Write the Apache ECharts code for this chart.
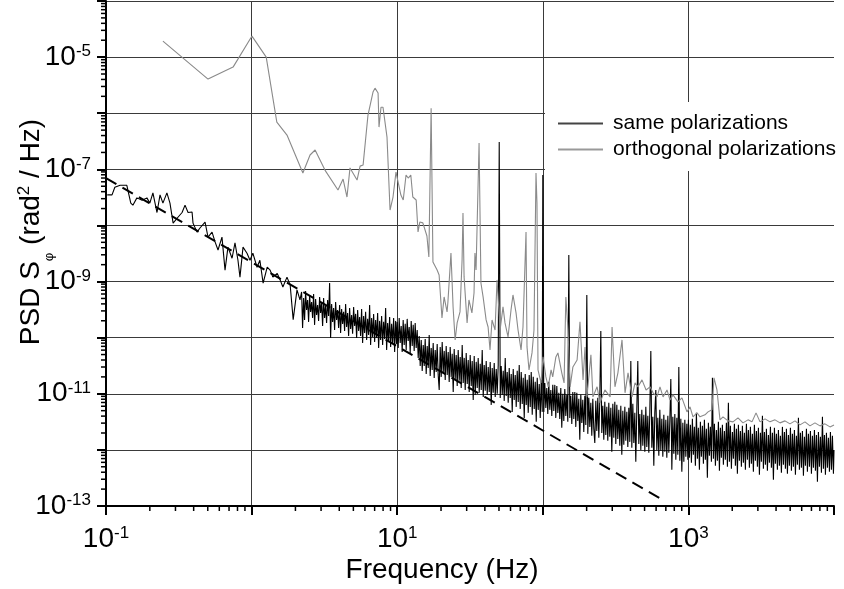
<!DOCTYPE html>
<html><head><meta charset="utf-8">
<script src="https://cdn.jsdelivr.net/npm/echarts@6/dist/echarts.min.js"></script>
<style>html,body{margin:0;padding:0;background:#fff}#c{width:844px;height:589px}</style>
</head><body><div id="c"></div>
<script>
const FONT = "'Liberation Sans', Arial, Helvetica, sans-serif";
// exponents that carry a tick label
const xLabelExponents = [-1, 1, 3];
const yLabelExponents = [-13, -11, -9, -7, -5];
const legendNames = ['same polarizations', 'orthogonal polarizations'];

// same polarizations: [frequency Hz, PSD rad^2/Hz]
const samePolarizations = [
[0.102,3.5e-8],[0.110,3.5e-8],[0.115,4.8e-8],[0.125,5.2e-8],[0.139,5.2e-8],[0.148,2.5e-8],[0.153,2.3e-8],[0.163,3.1e-8],[0.177,2.8e-8],[0.191,3.1e-8],[0.200,2.5e-8],[0.210,3.8e-8],[0.224,1.7e-8],[0.235,3.5e-8],[0.246,2.5e-8],[0.262,3.8e-8],[0.275,2.5e-8],[0.289,1.1e-8],[0.312,1.4e-8],[0.333,1.7e-8],[0.349,2.3e-8],[0.366,1.7e-8],[0.390,1.74e-8],[0.396,1.1e-8],[0.422,7.6e-9],[0.442,9.0e-9],[0.479,1.15e-8],[0.502,6.2e-9],[0.535,7.6e-9],[0.561,5.1e-9],[0.588,3.65e-9],[0.626,6.2e-9],[0.657,1.6e-9],[0.688,4.1e-9],[0.734,2.6e-9],[0.769,4.9e-9],[0.806,2.4e-9],[0.832,1.2e-9],[0.873,4.1e-9],[0.930,3.2e-9],[0.975,2.4e-9],[1.02,3.2e-9],[1.09,1.8e-9],[1.14,2.4e-9],[1.20,9.4e-10],[1.28,1.8e-9],[1.34,1.6e-9],[1.40,1.2e-9],[1.50,1.4e-9],[1.57,1.07e-9],[1.64,8.0e-10],[1.75,1.2e-9],[1.84,8.7e-10],[1.93,2.1e-10],[2.05,7.1e-10],[2.15,4.7e-10],
[2.205,6.53e-10],[2.240,1.49e-10],[2.276,5.10e-10],[2.312,2.07e-10],[2.349,6.80e-10],[2.386,3.12e-10],[2.425,4.70e-10],[2.463,1.91e-10],[2.503,5.77e-10],[2.542,2.88e-10],[2.583,4.33e-10],[2.624,2.25e-10],[2.666,6.01e-10],[2.708,1.69e-10],[2.752,4.90e-10],[2.795,2.54e-10],[2.840,3.83e-10],[2.885,1.99e-10],[2.932,5.32e-10],[2.978,2.76e-10],[3.026,4.16e-10],[3.074,1.62e-10],[3.123,5.10e-10],[3.172,2.25e-10],[3.224,3.68e-10],[3.274,1.83e-10],[3.327,4.70e-10],[3.380,2.44e-10],[3.434,9.44e-10],[3.488,9.9e-11],[3.545,3.99e-10],[3.600,1.91e-10],[3.659,3.39e-10],[3.716,1.37e-10],[3.776,4.33e-10],[3.836,2.07e-10],[3.898,3.12e-10],[3.959,1.49e-10],[4.023,3.83e-10],[4.086,1.21e-10],[4.152,3.25e-10],[4.218,1.76e-10],[4.286,2.88e-10],[4.353,1.32e-10],[4.423,3.99e-10],[4.493,1.55e-10],[4.565,2.76e-10],[4.638,1.07e-10],[4.712,3.39e-10],[4.787,1.43e-10],[4.864,2.54e-10],[4.941,1.17e-10],[5.020,3.53e-10],[5.100,1.62e-10],[5.181,2.65e-10],[5.264,9.9e-11],[5.348,3.12e-10],[5.433,1.32e-10],[5.520,2.34e-10],[5.607,1.07e-10],[5.697,3.25e-10],[5.787,8.06e-11],[5.880,2.44e-10],[5.973,1.21e-10],[6.069,2.88e-10],[6.166,9.12e-11],[6.264,2.16e-10],[6.364,1.12e-10],[6.466,3.83e-10],[6.568,7.43e-11],[6.673,2.25e-10],[6.780,1.03e-10],[6.888,2.65e-10],[6.998,8.40e-11],[7.109,2.07e-10],[7.223,9.9e-11],[7.338,2.76e-10],[7.455,6.57e-11],[7.574,1.99e-10],[7.695,9.12e-11],[7.817,2.44e-10],[7.942,7.43e-11],[8.068,1.91e-10],[8.197,9.50e-11],[8.328,3.39e-10],[8.461,6.05e-11],[8.595,1.83e-10],[8.733,8.75e-11],[8.872,2.34e-10],[9.014,6.84e-11],[9.157,1.76e-10],[9.303,8.06e-11],[9.451,2.25e-10],[9.602,5.57e-11],[9.755,1.99e-10],[9.911,7.74e-11],
[10.00,1.91e-10],[10.16,6.57e-11],[10.32,2.25e-10],[10.49,8.06e-11],[10.65,1.62e-10],[10.82,5.57e-11],[10.99,2.07e-10],[11.17,7.43e-11],[11.35,1.76e-10],[11.53,6.05e-11],[11.71,2.16e-10],[11.90,8.75e-11],[12.09,1.55e-10],[12.28,5.35e-11],[12.48,1.99e-10],[12.68,7.13e-11],[12.88,1.69e-10],[13.08,5.81e-11],[13.29,1.83e-10],[13.50,6.57e-11],[13.72,1.37e-10],[13.94,4.36e-11],[14.16,1.07e-10],[14.39,3.14e-11],[14.62,9.12e-11],[14.85,2.56e-11],[15.09,7.43e-11],[15.33,3.14e-11],[15.57,9.50e-11],[15.82,2.26e-11],[16.07,7.13e-11],[16.33,2.89e-11],[16.59,1.12e-10],[16.85,2.08e-11],[17.12,6.57e-11],[17.39,2.66e-11],[17.67,8.06e-11],[17.95,1.92e-11],[18.24,6.05e-11],[18.53,2.45e-11],[18.82,7.74e-11],[19.12,2.17e-11],[19.43,1.17e-11],[19.74,6.84e-11],[20.06,2.00e-11],[20.37,8.40e-11],[20.70,2.36e-11],[21.03,5.81e-11],[21.37,1.77e-11],[21.70,7.13e-11],[22.05,2.17e-11],[22.40,5.57e-11],[22.76,1.63e-11],[23.12,6.84e-11],[23.49,2.00e-11],[23.86,5.14e-11],[24.25,1.08e-11],[24.63,6.30e-11],[25.03,1.84e-11],[25.42,4.93e-11],[25.83,1.38e-11],[26.24,6.05e-11],[26.66,1.70e-11],[27.08,4.54e-11],[27.52,1.27e-11],[27.95,7.43e-11],[28.40,1.56e-11],[28.85,4.36e-11],[29.32,1.17e-11],[29.78,5.35e-11],[30.26,1.50e-11],[30.74,4.01e-11],[31.23,1.08e-11],[31.72,4.93e-11],[32.24,1.38e-11],[32.74,3.85e-11],[33.27,7.79e-12],[33.80,4.73e-11],[34.34,9.56e-12],[34.88,3.70e-11],[35.45,1.27e-11],[36.00,4.36e-11],[36.59,1.04e-11],[37.16,3.41e-11],[37.76,1.17e-11],[38.36,6.05e-11],[38.98,8.81e-12],[39.59,3.27e-11],[40.23,1.13e-11],[40.86,3.85e-11],[41.52,9.56e-12],[42.18,3.01e-11],[42.86,1.08e-11],[43.53,3.70e-11],[44.23,6.34e-12],[44.93,2.89e-11],[45.65,1.04e-11],[46.38,3.55e-11],[47.12,8.81e-12],[47.87,2.77e-11],[48.64,1.00e-11],[49.41,3.27e-11],[50.20,3.06e-7],[51.00,8.45e-12],[51.81,3.14e-11],[52.64,9.56e-12],[53.48,2.56e-11],[54.33,7.47e-12],[55.20,4.36e-11],[56.07,9.18e-12],[56.97,2.45e-11],[57.87,6.89e-12],[58.80,2.89e-11],[59.73,8.45e-12],[60.69,2.26e-11],[61.66,4.76e-12],[62.64,2.77e-11],[63.64,7.79e-12],[64.66,2.17e-11],[65.68,5.84e-12],[66.73,2.56e-11],[67.80,7.17e-12],[68.88,3.27e-11],[69.98,5.38e-12],[71.09,2.45e-11],[72.23,6.61e-12],[73.38,1.92e-11],[74.55,3.72e-12],[75.74,2.26e-11],[76.95,6.34e-12],[78.17,1.77e-11],[79.42,4.57e-12],[80.68,2.17e-11],[81.97,5.84e-12],[83.28,2.45e-11],[84.61,4.21e-12],[85.95,2.00e-11],[87.33,5.38e-12],[88.72,1.63e-11],[90.14,3.16e-12],[91.57,1.92e-11],[93.03,5.17e-12],[94.51,1.50e-11],[96.02,3.72e-12],[97.55,1.77e-11],[99.11,4.76e-12],
[100.0,7.92e-8],[101.6,4.76e-12],[103.2,1.56e-11],[104.9,5.61e-12],[106.5,1.27e-11],[108.2,4.38e-12],[109.9,1.63e-11],[111.7,5.17e-12],[113.5,1.17e-11],[115.3,4.04e-12],[117.1,1.44e-11],[119.0,4.96e-12],[120.9,1.44e-11],[122.8,3.72e-12],[124.8,1.38e-11],[126.8,4.57e-12],[128.8,1.04e-11],[130.8,3.57e-12],[132.9,1.27e-11],[135.0,2.47e-12],[137.2,1.00e-11],[139.4,3.29e-12],[141.6,1.22e-11],[143.9,4.04e-12],[146.2,9.56e-12],[148.5,3.16e-12],[150.9,2.98e-9],[153.3,3.72e-12],[155.7,9.18e-12],[158.2,2.91e-12],[160.7,1.08e-11],[163.3,3.57e-12],[165.9,1.08e-11],[168.5,2.57e-12],[171.2,1.04e-11],[173.9,3.29e-12],[176.7,8.11e-12],[179.5,1.51e-12],[182.4,9.56e-12],[185.3,3.03e-12],[188.2,7.79e-12],[191.2,2.09e-12],[194.3,9.18e-12],[197.4,2.79e-12],[200.6,5.77e-10],[203.7,1.93e-12],[207.0,8.45e-12],[210.3,2.57e-12],[213.7,6.89e-12],[217.0,1.78e-12],[220.5,8.11e-12],[224.0,2.37e-12],[227.6,1.33e-12],[231.2,7.47e-12],[234.9,2.18e-12],[238.6,8.45e-12],[242.5,1.64e-12],[246.3,7.79e-12],[250.3,1.32e-10],[254.2,2.01e-12],[258.3,6.09e-12],[262.4,1.51e-12],[266.6,7.17e-12],[270.8,1.85e-12],[275.2,5.84e-12],[279.5,1.45e-12],[284.0,6.89e-12],[288.5,1.71e-12],[293.2,5.61e-12],[297.8,9.23e-13],[302.6,6.61e-12],[307.4,1.64e-12],[312.3,7.17e-12],[317.2,1.28e-12],[322.4,6.34e-12],[327.4,1.57e-12],[332.7,5.17e-12],[338.0,1.18e-12],[343.4,6.09e-12],[348.8,8.16e-13],[354.5,4.96e-12],[360.0,1.23e-12],[365.9,5.84e-12],[371.6,1.45e-12],[377.6,4.76e-12],[383.6,1.13e-12],[389.8,5.61e-12],[395.9,1.39e-12],[402.3,3.85e-11],[408.6,1.09e-12],[415.2,6.61e-12],[421.8,1.33e-12],[428.6,4.57e-12],[435.3,6.13e-13],[442.3,5.38e-12],[449.3,3.85e-11],[456.5,1.28e-12],[463.8,4.38e-12],[471.2,1.00e-12],[478.7,5.17e-12],[486.4,1.18e-12],[494.1,4.21e-12],[502.0,9.23e-13],[510.0,5.84e-12],[518.1,1.13e-12],[526.4,4.04e-12],[534.8,8.86e-13],[543.3,4.76e-12],[552.0,5.81e-11],[560.7,1.09e-12],[569.7,3.88e-12],[578.7,5.20e-13],[588.0,4.57e-12],[597.3,1.17e-11],[606.9,1.00e-12],[616.6,3.72e-12],[626.4,7.83e-13],[636.4,5.17e-12],[646.6,9.62e-13],[656.8,3.57e-12],[667.3,7.52e-13],[678.0,4.21e-12],[688.8,9.23e-13],[699.8,3.43e-12],[710.9,7.22e-13],[722.3,4.04e-12],[733.8,8.86e-13],[745.5,3.29e-12],[757.4,1.84e-11],[769.5,4.41e-13],[781.7,3.88e-12],[794.2,8.50e-13],[806.8,4.38e-12],[819.7,6.65e-13],[832.8,3.72e-12],[846.1,8.16e-13],[859.5,3.01e-11],[873.3,6.38e-13],[887.2,3.57e-12],[901.4,4.06e-13],[915.7,3.03e-12],[930.3,6.13e-13],[945.1,3.43e-12],[960.2,7.52e-13],[975.5,2.91e-12],[991.1,6.65e-13],
[1000,3.43e-12],[1016,7.22e-13],[1032,2.79e-12],[1049,5.88e-13],[1065,3.57e-12],[1082,8.16e-13],[1099,2.57e-12],[1117,5.20e-13],[1135,4.57e-12],[1153,6.93e-13],[1171,2.47e-12],[1190,4.41e-13],[1209,3.16e-12],[1228,7.52e-13],[1248,2.68e-12],[1268,5.64e-13],[1288,3.43e-12],[1308,6.65e-13],[1329,2.37e-12],[1350,3.18e-13],[1372,3.03e-12],[1394,7.83e-13],[1416,2.57e-12],[1439,6.13e-13],[1462,1.92e-11],[1485,6.93e-13],[1509,2.91e-12],[1533,5.20e-13],[1557,2.27e-12],[1582,6.38e-13],[1607,3.16e-12],[1633,4.24e-13],[1659,2.47e-12],[1685,7.22e-13],[1712,2.79e-12],[1739,5.42e-13],[1767,2.18e-12],[1795,6.65e-13],[1824,3.03e-12],[1853,4.99e-13],[1882,6.89e-12],[1912,6.13e-13],[1943,2.68e-12],[1974,4.60e-13],[2006,2.09e-12],[2037,6.93e-13],[2070,2.91e-12],[2103,5.20e-13],[2137,2.37e-12],[2170,3.75e-13],[2205,2.79e-12],[2240,6.38e-13],[2276,2.18e-12],[2312,4.99e-13],[2349,2.68e-12],[2386,5.88e-13],[2425,2.01e-12],[2463,4.41e-13],[2503,2.91e-12],[2542,6.65e-13],[2583,2.27e-12],[2624,4.79e-13],[2666,2.57e-12],[2708,5.64e-13],[2752,1.93e-12],[2795,4.06e-13],[2840,2.79e-12],[2885,6.38e-13],[2932,2.18e-12],[2978,4.99e-13],[3026,2.47e-12],[3074,3.59e-13],[3123,2.01e-12],[3172,6.13e-13],[3224,4.04e-12],[3274,4.60e-13],[3327,2.09e-12],[3380,5.42e-13],[3434,2.37e-12],[3488,4.24e-13],[3545,1.85e-12],[3600,5.88e-13],[3659,2.57e-12],[3716,4.79e-13],[3776,2.01e-12],[3836,2.93e-13],[3898,2.47e-12],[3959,5.64e-13],[4023,1.93e-12],[4086,4.41e-13],[4152,2.27e-12],[4218,5.20e-13],[4286,1.78e-12],[4353,3.90e-13],[4423,2.57e-12],[4493,5.42e-13],[4565,2.09e-12],[4638,4.60e-13],[4712,2.37e-12],[4787,3.75e-13],[4864,1.85e-12],[4941,5.20e-13],[5020,2.47e-12],[5100,4.24e-13],[5181,1.93e-12],[5264,4.99e-13],[5348,2.27e-12],[5433,3.59e-13],[5520,1.78e-12],[5607,5.42e-13],[5697,3.72e-12],[5787,4.41e-13],[5880,2.01e-12],[5973,4.79e-13],[6069,2.18e-12],[6166,3.45e-13],[6264,1.71e-12],[6364,5.20e-13],[6466,2.37e-12],[6568,4.06e-13],[6673,1.93e-12],[6780,4.99e-13],[6888,2.18e-12],[6998,3.75e-13],[7109,1.78e-12],[7223,4.79e-13],[7338,2.27e-12],[7455,4.24e-13],[7574,1.85e-12],[7695,2.70e-13],[7817,2.09e-12],[7942,4.99e-13],[8068,1.71e-12],[8197,3.90e-13],[8328,3.88e-12],[8461,4.60e-13],[8595,1.85e-12],[8733,3.59e-13],[8872,2.01e-12],[9014,4.79e-13],[9157,1.64e-12],[9303,4.06e-13],[9451,2.09e-12],[9602,4.41e-13],[9755,1.78e-12],[9911,3.75e-13],[10000,1.00e-12]
];

// orthogonal polarizations: [frequency Hz, PSD rad^2/Hz]
const orthogonalPolarizations = [
[0.246,1.93e-5],[0.502,4.06e-6],[0.746,6.64e-6],[1.006,2.37e-5],[1.26,1.0e-5],[1.49,6.96e-7],[1.75,4.08e-7],[2.25,8.59e-8],[2.52,1.80e-7],[2.73,2.21e-7],[3.19,9.7e-8],[3.92,4.28e-8],[4.25,6.72e-8],[4.52,3.21e-8],[4.74,1.06e-7],[5.30,6.45e-8],[5.56,1.14e-7],[5.83,1.19e-7],[6.30,9.27e-7],[6.82,2.38e-6],[7.04,2.80e-6],[7.39,2.29e-6],[7.50,5.66e-7],[7.74,1.28e-6],[7.99,1.28e-6],[8.51,3.76e-7],[8.93,1.88e-8],[9.36,3.21e-8],[9.81,8.95e-8],[10.1,8.59e-8],[10.6,3.48e-8],[11.0,2.84e-8],[11.5,7.92e-8],[11.9,7.0e-8],[12.4,7.92e-8],[12.8,3.21e-8],[13.5,2.84e-8],[13.9,7.64e-9],[14.3,1.15e-8],[15.0,1.11e-8],[15.3,1.15e-8],[16.0,6.49e-9],[16.5,2.74e-9],[17.1,1.23e-6],[17.6,2.23e-9],[18.8,1.61e-9],[19.4,1.31e-9],[20.3,2.25e-10],[21.0,5.32e-10],[22.0,2.88e-10],[22.3,4.33e-10],[23.4,3.23e-9],[24.2,3.53e-10],[25.0,9.12e-11],[25.8,1.83e-10],[27.0,2.88e-10],[27.9,2.42e-9],[28.3,1.67e-8],[28.8,1.21e-9],[30.2,1.83e-10],[31.1,4.70e-10],[32.6,2.76e-10],[33.7,6.26e-10],[34.2,3.23e-9],[34.8,1.61e-9],[36.5,2.94e-7],[37.6,9.44e-10],[38.9,5.32e-10],[40.8,2.07e-10],[42.1,1.55e-10],[43.4,6.05e-11],[44.8,2.07e-10],[47.0,1.37e-10],[48.5,1.07e-9],[50.9,1.37e-10],[53.3,3.53e-10],[55.0,1.83e-10],[57.7,1.03e-10],[60.5,3.12e-10],[62.4,5.77e-10],[65.5,2.76e-10],[67.6,1.37e-10],[70.9,6.05e-11],[73.1,1.55e-10],[76.7,7.64e-9],[77.9,6.84e-11],[80.4,2.66e-11],[84.3,5.35e-11],[87.0,1.37e-10],[89.8,8.59e-8],[91.2,2.51e-8],[92.7,2.66e-11],[97.2,1.56e-11],[100.3,4.54e-11],[105,2.0e-11],[109,1.33e-11],[114,2.66e-11],[117,2.0e-11],[123,4.54e-11],[127,5.35e-11],[135,2.36e-11],[140,1.56e-11],[144,5.32e-10],[149,1.37e-10],[154,1.33e-11],[161,3.01e-11],[172,4.01e-11],[180,1.91e-10],[189,1.77e-11],[195,6.84e-11],[201,8.81e-12],[214,4.93e-11],[221,8.81e-12],[236,1.33e-11],[247,6.89e-12],[267,1.17e-11],[290,8.81e-12],[299,1.55e-10],[313,1.33e-11],[328,2.36e-11],[350,9.12e-11],[367,1.04e-11],[385,2.36e-11],[410,8.81e-12],[430,1.56e-11],[451,1.33e-11],[480,1.77e-11],[512,1.17e-11],[545,1.33e-11],[572,1.04e-11],[609,8.81e-12],[638,1.33e-11],[670,8.81e-12],[713,1.17e-11],[747,7.79e-12],[784,9.56e-12],[848,7.17e-12],[903,8.45e-12],[978,4.76e-12],[1026,5.84e-12],[1075,3.88e-12],[1146,4.57e-12],[1201,3.88e-12],[1300,4.21e-12],[1364,4.76e-12],[1452,5.17e-12],[1499,1.92e-11],[1571,1.17e-11],[1648,3.43e-12],[1728,3.88e-12],[1871,3.29e-12],[2024,3.16e-12],[2191,3.72e-12],[2371,3.03e-12],[2566,3.43e-12],[2734,3.16e-12],[2914,4.57e-12],[3105,3.16e-12],[3360,3.57e-12],[3635,3.16e-12],[3934,3.43e-12],[4257,3.03e-12],[4607,3.29e-12],[4986,2.91e-12],[5396,3.29e-12],[5839,2.79e-12],[6319,3.16e-12],[6840,2.68e-12],[7400,3.03e-12],[8010,2.68e-12],[8670,2.91e-12],[9380,2.57e-12],[10000,2.79e-12]
];

// dashed reference line (two end points)
const fitLine = [[0.1, 7.0e-8], [680, 1.25e-13]];

// minor tick mantissas and the decades they repeat in
const minorMantissas = [2, 3, 4, 5, 6, 7, 8, 9];
const xMinorDecades = [0.1, 1, 10, 100, 1000];
const yMinorDecades = [1e-13, 1e-12, 1e-11, 1e-10, 1e-9, 1e-8, 1e-7, 1e-6, 1e-5];

const xMin = 0.1, xMax = 10000, yMin = 1e-13, yMax = 1e-4;

const minorTicks = [];
xMinorDecades.forEach(d => minorMantissas.forEach(m => minorTicks.push([m * d, yMin, 0])));
yMinorDecades.forEach(d => minorMantissas.forEach(m => minorTicks.push([xMin, m * d, 1])));

const expOf = v => Math.round(Math.log10(v));
const richTick = {
  b: { fontSize: 28, fontFamily: FONT, color: '#000' },
  s: { fontSize: 17, fontFamily: FONT, color: '#000', verticalAlign: 'top' }
};

const chart = echarts.init(document.getElementById('c'), null, { renderer: 'canvas' });
chart.setOption({
  animation: false,
  backgroundColor: '#fff',
  grid: { left: 106, right: 10, top: 1, bottom: 83, containLabel: false, outerBoundsMode: 'none' },
  xAxis: {
    type: 'log', logBase: 10, min: xMin, max: xMax,
    axisLine: { onZero: false, lineStyle: { color: '#000', width: 2 } },
    axisTick: { show: true, inside: false, length: 9, lineStyle: { color: '#000', width: 2 } },
    splitLine: { show: true, showMinLine: false, showMaxLine: false, lineStyle: { color: '#3a3a3a', width: 1 } },
    axisLabel: {
      margin: 19,
      formatter: v => xLabelExponents.includes(expOf(v)) ? '{b|10}{s|' + expOf(v) + '}' : '',
      rich: richTick
    }
  },
  yAxis: {
    type: 'log', logBase: 10, min: yMin, max: yMax,
    axisLine: { onZero: false, lineStyle: { color: '#000', width: 2 } },
    axisTick: { show: true, inside: false, length: 9, lineStyle: { color: '#000', width: 2 } },
    splitLine: { show: true, showMinLine: false, showMaxLine: false, lineStyle: { color: '#3a3a3a', width: 1 } },
    axisLabel: {
      margin: 15,
      formatter: v => yLabelExponents.includes(expOf(v)) ? '{b|10}{s|' + expOf(v) + '}' : '',
      rich: richTick
    }
  },
  legend: {
    orient: 'vertical', left: 545, top: 102,
    backgroundColor: '#fff', padding: [11, 6, 11, 13],
    itemWidth: 45, itemHeight: 2, itemGap: 5, icon: 'rect',
    textStyle: { fontSize: 21, fontFamily: FONT, color: '#000', padding: [0, 0, 0, 5] },
    data: [
      { name: legendNames[0], itemStyle: { color: '#444' } },
      { name: legendNames[1], itemStyle: { color: '#999' } }
    ]
  },
  graphic: [
    {
      type: 'text', x: 442, y: 570,
      style: { text: 'Frequency (Hz)', fontSize: 28, fontFamily: FONT, fill: '#000', align: 'center', verticalAlign: 'middle' }
    },
    {
      type: 'text', x: 31, y: 232, rotation: Math.PI / 2,
      style: {
        text: '{m|PSD S}{sub|\u03c6}{m| (rad}{sup|2}{m| / Hz)}',
        align: 'center', verticalAlign: 'middle', fill: '#000',
        rich: {
          m: { fontSize: 28, fontFamily: FONT, lineHeight: 50, fill: '#000' },
          sub: { fontSize: 13, fontFamily: FONT, verticalAlign: 'bottom', fill: '#000' },
          sup: { fontSize: 17, fontFamily: FONT, verticalAlign: 'top', padding: [10, 0, 0, 0], fill: '#000' }
        }
      }
    }
  ],
  series: [
    {
      name: legendNames[0], type: 'line', data: samePolarizations,
      showSymbol: false, symbol: 'none', lineStyle: { color: '#000', width: 1.1 }, itemStyle: { color: '#000' },
      z: 2, silent: true
    },
    {
      name: legendNames[1], type: 'line', data: orthogonalPolarizations,
      showSymbol: false, symbol: 'none', lineStyle: { color: '#8a8a8a', width: 1.1 }, itemStyle: { color: '#8a8a8a' },
      z: 3, silent: true
    },
    {
      name: 'fit', type: 'line', data: fitLine,
      showSymbol: false, symbol: 'none', lineStyle: { color: '#000', width: 2, type: [12, 7] },
      z: 4, silent: true
    },
    {
      name: 'minor ticks', type: 'custom', data: minorTicks, clip: false, silent: true, z: 5,
      renderItem: function (params, api) {
        const p = api.coord([api.value(0), api.value(1)]);
        const isY = api.value(2) === 1;
        return {
          type: 'line',
          shape: isY ? { x1: p[0] - 5, y1: p[1], x2: p[0], y2: p[1] }
                     : { x1: p[0], y1: p[1], x2: p[0], y2: p[1] + 5 },
          style: { stroke: '#000', lineWidth: 1.5 }
        };
      }
    }
  ]
});
</script>
</body></html>
